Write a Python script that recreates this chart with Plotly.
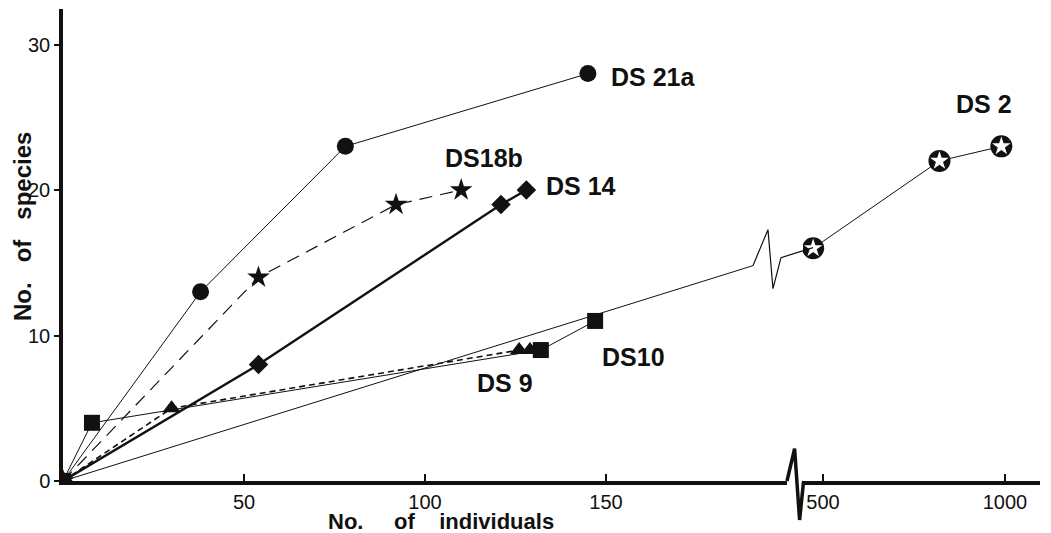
import plotly.graph_objects as go

# ---------------- data ----------------
ds21a_x = [0, 38, 78, 145]
ds21a_y = [0, 13, 23, 28]

ds18b_x = [0, 54, 92, 110]
ds18b_y = [0, 14, 19, 20]

ds14_x = [0, 54, 121, 128]
ds14_y = [0, 8, 19, 20]

ds10_x = [0, 8, 132, 147]
ds10_y = [0, 4, 9, 11]

ds9_x = [0, 30, 126, 129]
ds9_y = [0, 5, 9, 9]

# DS 2: first leg drawn up to the axis break, then points on the compressed scale
ds2_lead_x = [0, 190.6]
ds2_lead_y = [0, 14.8]
ds2_x = [473, 820, 990]
ds2_y = [16, 22, 23]

x_left_ticks = [50, 100, 150]
x_right_ticks = [500, 1000]
y_ticks = [0, 10, 20, 30]

labels = [
    # text, x, y, axis
    ("DS 21a", 163, 27.8, "x"),
    ("DS18b", 116.3, 22.2, "x"),
    ("DS 14", 143, 20.3, "x"),
    ("DS10", 157.5, 8.5, "x"),
    ("DS 9", 122, 6.75, "x"),
    ("DS 2", 941, 25.9, "x2"),
]

# ---------------- layout geometry ----------------
W, H = 1051, 533
ML, MR, MT, MB = 63, 11, 9, 52
PW = W - ML - MR
PH = H - MT - MB
left_dom = [0, 724 / PW]
right_dom = [740 / PW, 1]
left_range = [0, 200]
right_range = [445.1, 1096.2]
y_range = [0, 32.44]

FONT = "Liberation Sans, Arial, Helvetica, sans-serif"
BLACK = "#111111"

fig = go.Figure()

def line_trace(x, y, width, dash="solid", symbol=None, size=0, xaxis="x", mode="lines+markers"):
    return go.Scatter(
        x=x, y=y, xaxis=xaxis, yaxis="y", mode=mode,
        line=dict(color=BLACK, width=width, dash=dash),
        marker=dict(symbol=symbol or "circle", size=size, color=BLACK, line=dict(width=0)),
        showlegend=False, hoverinfo="skip",
    )

# DS 2 lead line (thin)
fig.add_trace(line_trace(ds2_lead_x, ds2_lead_y, 1.0, mode="lines"))
# DS 10 thin solid, squares
fig.add_trace(line_trace(ds10_x, ds10_y, 1.0, symbol="square", size=16))
# DS 9 short dash, triangles
fig.add_trace(line_trace(ds9_x, ds9_y, 1.6, dash="6px,4px", symbol="triangle-up", size=16))
# DS 14 thick solid, diamonds
fig.add_trace(line_trace(ds14_x, ds14_y, 2.4, symbol="diamond", size=15))
# DS 18b long dash, stars
fig.add_trace(line_trace(ds18b_x, ds18b_y, 1.2, dash="13px,8px", symbol="star", size=17))
# DS 21a thin solid, circles
fig.add_trace(line_trace(ds21a_x, ds21a_y, 1.0, symbol="circle", size=17))
# DS 2 right part: black disc with white star
fig.add_trace(line_trace(ds2_x, ds2_y, 1.0, symbol="circle", size=22, xaxis="x2"))
fig.add_trace(go.Scatter(
    x=ds2_x, y=ds2_y, xaxis="x2", yaxis="y", mode="markers",
    marker=dict(symbol="star", size=14, color="white", line=dict(width=0)),
    showlegend=False, hoverinfo="skip",
))

# ---------------- decorations: breaks ----------------
shapes = []
# break mark on the x axis
shapes.append(dict(
    type="path", xref="paper", yref="paper", xsizemode="pixel", ysizemode="pixel",
    xanchor=left_dom[1], yanchor=0,
    path="M0,0 L7.6,32.4 L12.6,-39 L16.6,0",
    line=dict(color=BLACK, width=3.5), layer="above",
))
# break zigzag on the DS 2 line, anchored at the end of its lead line
ax_paper = left_dom[1] * (ds2_lead_x[-1] - left_range[0]) / (left_range[1] - left_range[0])
ay_paper = (ds2_lead_y[-1] - y_range[0]) / (y_range[1] - y_range[0])
shapes.append(dict(
    type="path", xref="paper", yref="paper", xsizemode="pixel", ysizemode="pixel",
    xanchor=ax_paper, yanchor=ay_paper,
    path="M0,0 L15,36 L20,-23 L28,8 L60,18",
    line=dict(color=BLACK, width=1.2), layer="above",
))

annotations = []
for text, x, y, ax in labels:
    annotations.append(dict(
        text=f"<b>{text}</b>", x=x, y=y, xref=ax, yref="y",
        showarrow=False, xanchor="center", yanchor="middle",
        font=dict(family=FONT, size=25, color=BLACK),
    ))

NB = "\u00a0"
annotations.append(dict(
    text=f"<b>No.{NB*5}of{NB*4}individuals</b>", xref="paper", yref="paper",
    x=(441 - ML) / PW, y=(H - MB - 521) / PH, showarrow=False,
    xanchor="center", yanchor="middle",
    font=dict(family=FONT, size=22, color=BLACK),
))
annotations.append(dict(
    text=f"<b>No.{NB*3}of{NB*3}species</b>", xref="paper", yref="paper",
    x=(22 - ML) / PW, y=(H - MB - 227) / PH, showarrow=False, textangle=-90,
    xanchor="center", yanchor="middle",
    font=dict(family=FONT, size=24, color=BLACK),
))

axis_common = dict(
    showgrid=False, zeroline=False, showline=True, linecolor=BLACK, linewidth=3.5,
    tickfont=dict(family=FONT, size=20, color=BLACK), tickcolor=BLACK,
)

fig.update_layout(
    width=W, height=H,
    margin=dict(l=ML, r=MR, t=MT, b=MB, pad=0),
    paper_bgcolor="white", plot_bgcolor="white",
    xaxis=dict(domain=left_dom, range=left_range, tickvals=x_left_ticks,
               ticks="inside", ticklen=7, tickwidth=1.5, anchor="y", **axis_common),
    xaxis2=dict(domain=right_dom, range=right_range, tickvals=x_right_ticks,
                ticks="inside", ticklen=7, tickwidth=1.5, anchor="y", **axis_common),
    yaxis=dict(range=y_range, tickvals=y_ticks, ticks="outside", ticklen=5,
               tickwidth=2, anchor="x", **axis_common),
    shapes=shapes, annotations=annotations,
)

fig.write_html(
    "out.html",
    config={"displayModeBar": False},
    post_script="document.body.style.margin='0';document.body.style.padding='0';"
                "document.body.style.overflow='hidden';",
)
